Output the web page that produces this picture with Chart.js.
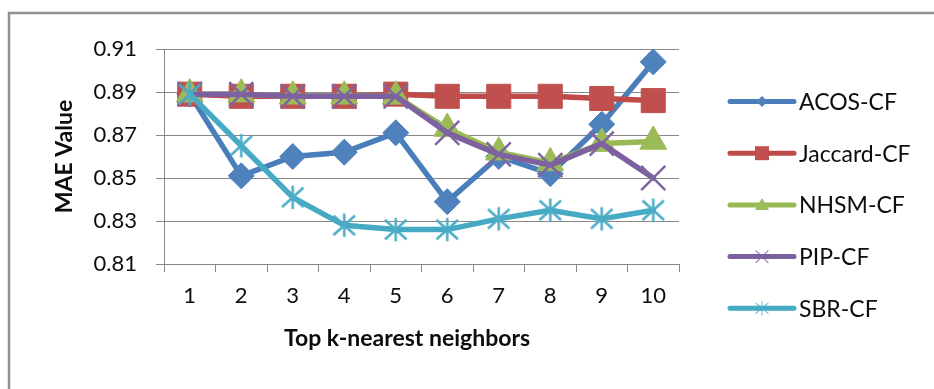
<!DOCTYPE html>
<html>
<head>
<meta charset="utf-8">
<script src="https://cdn.jsdelivr.net/npm/chart.js@4/dist/chart.umd.min.js"></script>
<style>
  html, body { margin: 0; padding: 0; background: #ffffff; }
  #wrap { width: 934px; height: 389px; position: relative; }
</style>
</head>
<body>
<div id="wrap"><canvas id="c" width="934" height="389"></canvas></div>
<script>
// k values on the x axis
const categories = ['1', '2', '3', '4', '5', '6', '7', '8', '9', '10'];

// MAE per method
const acosCF    = [0.889, 0.851, 0.860, 0.862, 0.871, 0.839, 0.860, 0.852, 0.875, 0.904];
const jaccardCF = [0.889, 0.888, 0.888, 0.888, 0.889, 0.888, 0.888, 0.888, 0.887, 0.886];
const nhsmCF    = [0.889, 0.889, 0.888, 0.888, 0.888, 0.873, 0.862, 0.857, 0.866, 0.867];
const pipCF     = [0.889, 0.889, 0.888, 0.888, 0.888, 0.871, 0.861, 0.856, 0.866, 0.850];
const sbrCF     = [0.889, 0.865, 0.841, 0.828, 0.826, 0.826, 0.831, 0.835, 0.831, 0.835];

const seriesNames = ['ACOS-CF', 'Jaccard-CF', 'NHSM-CF', 'PIP-CF', 'SBR-CF'];
const yTicks = [0.81, 0.83, 0.85, 0.87, 0.89, 0.91];

const xTitle = 'Top k-nearest neighbors';
const yTitle = 'MAE Value';

const FONT = 'Lato, "Open Sans", "Noto Sans", sans-serif';
const TEXT = '#0d0d0d';
const GRID = '#878787';

// asterisk marker: vertical bar plus an X
function asterisk(size, color, lw) {
  const c = document.createElement('canvas');
  c.width = size; c.height = size;
  const g = c.getContext('2d');
  g.strokeStyle = color; g.lineWidth = lw; g.lineCap = 'butt';
  const h = size / 2, e = lw / 2 + 0.5;
  g.beginPath();
  g.moveTo(h, e); g.lineTo(h, size - e);
  g.moveTo(e + 1, e + 2); g.lineTo(size - e - 1, size - e - 2);
  g.moveTo(size - e - 1, e + 2); g.lineTo(e + 1, size - e - 2);
  g.stroke();
  return c;
}

const colors = {
  acos:    { line: '#4A7EBB', fill: '#4F81BD' },
  jaccard: { line: '#BE4B48', fill: '#C0504D' },
  nhsm:    { line: '#98B954', fill: '#9BBB59' },
  pip:     { line: '#7D60A0', fill: '#8064A2' },
  sbr:     { line: '#46AAC5', fill: '#4BACC6' }
};

const datasets = [
  { label: seriesNames[0], data: acosCF, borderColor: colors.acos.line, backgroundColor: colors.acos.fill,
    pointStyle: 'rectRot', pointRadius: 13, pointBorderWidth: 1, pointBorderColor: colors.acos.fill, order: 5 },
  { label: seriesNames[1], data: jaccardCF, borderColor: colors.jaccard.line, backgroundColor: colors.jaccard.fill,
    pointStyle: 'rect', pointRadius: 17, pointBorderWidth: 1, pointBorderColor: colors.jaccard.fill, order: 4 },
  { label: seriesNames[2], data: nhsmCF, borderColor: colors.nhsm.line, backgroundColor: colors.nhsm.fill,
    pointStyle: 'triangle', pointRadius: 15.5, pointBorderWidth: 1, pointBorderColor: colors.nhsm.fill, order: 3 },
  { label: seriesNames[3], data: pipCF, borderColor: colors.pip.line, backgroundColor: colors.pip.fill,
    pointStyle: 'crossRot', pointRadius: 17, pointBorderWidth: 2.5, pointBorderColor: colors.pip.fill, order: 2 },
  { label: seriesNames[4], data: sbrCF, borderColor: colors.sbr.line, backgroundColor: colors.sbr.fill,
    pointStyle: asterisk(27, colors.sbr.fill, 2.5), order: 1 }
];
datasets.forEach(d => {
  d.borderWidth = 5.5;
  d.tension = 0;
  d.fill = false;
  d.pointHoverRadius = d.pointRadius;
  d.borderJoinStyle = 'round';
  d.borderCapStyle = 'round';
});

// legend markers (smaller versions of the plot markers)
function legendMarker(ctx, i, x, y) {
  const d = datasets[i];
  ctx.save();
  ctx.fillStyle = d.backgroundColor;
  ctx.strokeStyle = d.backgroundColor;
  ctx.beginPath();
  if (i === 0) {
    ctx.moveTo(x, y - 5.5); ctx.lineTo(x + 5.5, y); ctx.lineTo(x, y + 5.5); ctx.lineTo(x - 5.5, y); ctx.closePath(); ctx.fill();
  } else if (i === 1) {
    ctx.rect(x - 7, y - 7, 14, 14); ctx.fill();
  } else if (i === 2) {
    ctx.moveTo(x, y - 7); ctx.lineTo(x + 7, y + 5); ctx.lineTo(x - 7, y + 5); ctx.closePath(); ctx.fill();
  } else if (i === 3) {
    ctx.lineWidth = 1.2; ctx.globalAlpha = 0.8;
    ctx.moveTo(x - 6, y - 6); ctx.lineTo(x + 6, y + 6); ctx.moveTo(x + 6, y - 6); ctx.lineTo(x - 6, y + 6); ctx.stroke();
  } else {
    ctx.lineWidth = 1.2; ctx.globalAlpha = 0.7;
    ctx.moveTo(x, y - 7); ctx.lineTo(x, y + 7);
    ctx.moveTo(x - 6, y - 5); ctx.lineTo(x + 6, y + 5); ctx.moveTo(x + 6, y - 5); ctx.lineTo(x - 6, y + 5); ctx.stroke();
  }
  ctx.restore();
}

const decorations = {
  id: 'decorations',
  beforeDraw(chart) {
    const ctx = chart.ctx;
    ctx.save();
    ctx.fillStyle = '#ffffff';
    ctx.fillRect(0, 0, chart.width, chart.height);
    ctx.restore();
  },
  afterDraw(chart) {
    const ctx = chart.ctx;
    const area = chart.chartArea;
    ctx.save();
    // outer frame
    ctx.strokeStyle = '#8f8f8f';
    ctx.lineWidth = 2.5;
    ctx.beginPath();
    ctx.moveTo(9, chart.height + 5);
    ctx.lineTo(9, 13);
    ctx.lineTo(chart.width + 5, 13);
    ctx.stroke();

    // axis titles
    ctx.fillStyle = TEXT;
    ctx.font = 'bold 23px ' + FONT;
    ctx.textAlign = 'center';
    ctx.textBaseline = 'middle';
    ctx.fillText(xTitle, 407, 339);
    ctx.save();
    ctx.translate(65, (area.top + area.bottom) / 2);
    ctx.rotate(-Math.PI / 2);
    ctx.fillText(yTitle, 0, 0);
    ctx.restore();

    // legend
    ctx.font = '23px ' + FONT;
    ctx.textAlign = 'left';
    datasets.forEach((d, i) => {
      const y = 101.5 + i * 51.7;
      ctx.strokeStyle = d.borderColor;
      ctx.lineWidth = 5;
      ctx.lineCap = 'round';
      ctx.beginPath();
      ctx.moveTo(730, y);
      ctx.lineTo(794, y);
      ctx.stroke();
      legendMarker(ctx, i, 762, y);
      ctx.fillStyle = TEXT;
      ctx.fillText(d.label, 799, y + 1);
    });
    ctx.restore();
  }
};

new Chart(document.getElementById('c'), {
  type: 'line',
  data: { labels: categories, datasets: datasets },
  options: {
    responsive: false,
    animation: false,
    devicePixelRatio: 1,
    layout: { padding: { top: 49, right: 255, left: 0, bottom: 0 } },
    plugins: { legend: { display: false }, tooltip: { enabled: false } },
    scales: {
      x: {
        type: 'category',
        offset: true,
        grid: { display: true, drawOnChartArea: false, drawTicks: true, tickLength: 8, color: GRID, offset: true },
        border: { color: GRID, width: 1 },
        ticks: { color: TEXT, font: { family: FONT, size: 22 }, padding: 11, maxRotation: 0, autoSkip: false },
        afterFit(scale) { scale.height = 125; }
      },
      y: {
        min: 0.81,
        max: 0.91,
        grid: { color: GRID, lineWidth: 1, tickLength: 8, drawTicks: true },
        border: { color: GRID, width: 1 },
        ticks: { color: TEXT, font: { family: FONT, size: 22 }, padding: 19,
                 callback: v => Number(v).toFixed(2) },
        afterBuildTicks(scale) { scale.ticks = yTicks.map(v => ({ value: v })); },
        afterFit(scale) { scale.width = 164; }
      }
    }
  },
  plugins: [decorations]
});
</script>
</body>
</html>
